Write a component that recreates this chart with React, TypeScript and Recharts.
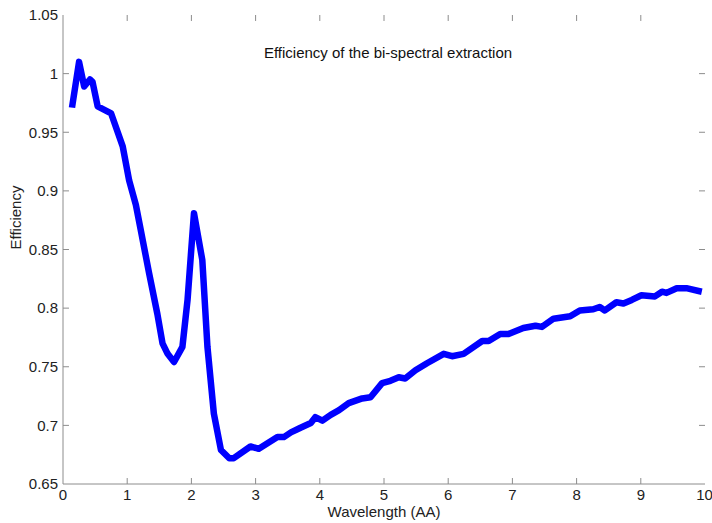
import { LineChart, Line, XAxis, YAxis, ReferenceLine } from "recharts";

const wavelength = [
  0.14, 0.25, 0.33, 0.42, 0.46, 0.54, 0.75, 0.93, 1.03, 1.135, 1.21, 1.34, 1.47, 1.55, 1.63, 1.73,
  1.86, 1.94, 2.04, 2.17, 2.25, 2.35, 2.46, 2.59, 2.66, 2.92, 3.05, 3.34, 3.44, 3.55, 3.7, 3.86,
  3.93, 4.04, 4.17, 4.3, 4.45, 4.66, 4.79, 4.97, 5.1, 5.23, 5.33, 5.49, 5.67, 5.93, 6.06, 6.24,
  6.53, 6.63, 6.81, 6.94, 7.17, 7.36, 7.46, 7.64, 7.9, 8.05, 8.26, 8.36, 8.44, 8.62, 8.73, 8.86,
  9.01, 9.22, 9.33, 9.4, 9.56, 9.71, 9.95,
];

const efficiency = [
  0.971, 1.01, 0.989, 0.995, 0.993, 0.972, 0.966, 0.938, 0.909, 0.888, 0.867, 0.83, 0.795, 0.77,
  0.761, 0.754, 0.767, 0.807, 0.881, 0.841, 0.767, 0.71, 0.679, 0.672, 0.672, 0.682, 0.68, 0.69,
  0.69, 0.694, 0.698, 0.702, 0.707, 0.704, 0.709, 0.713, 0.719, 0.723, 0.724, 0.736, 0.738, 0.741,
  0.74, 0.747, 0.753, 0.761, 0.759, 0.761, 0.772, 0.772, 0.778, 0.778, 0.783, 0.785, 0.784, 0.791,
  0.793, 0.798, 0.799, 0.801, 0.798, 0.805, 0.804, 0.807, 0.811, 0.81, 0.814, 0.813, 0.817, 0.817,
  0.814,
];

const xTicks = [0, 1, 2, 3, 4, 5, 6, 7, 8, 9, 10];
const yTicks = [0.65, 0.7, 0.75, 0.8, 0.85, 0.9, 0.95, 1, 1.05];

const data = wavelength.map((w, i) => ({ w, e: efficiency[i] }));

const X0 = 0, X1 = 10, Y0 = 0.65, Y1 = 1.05;
// inward tick length (~6px) expressed in axis units
const xTickLen = 0.093;
const yTickLen = 0.0051;

const font = "'Liberation Sans', Arial, sans-serif";
const axisGray = "#8c8c8c";
const tickText = { fill: "#222", fontSize: 15, fontFamily: font };
const fmtY = (v: number) => String(Math.round(v * 100) / 100);
const blank = () => "";

const tickSeg = (key: string, a: { x: number; y: number }, b: { x: number; y: number }) => (
  <ReferenceLine key={key} xAxisId="bottom" yAxisId="left" segment={[a, b]} stroke={axisGray} strokeWidth={1} />
);

export default function App() {
  return (
    <div style={{ position: "absolute", left: 0, top: 0, background: "#fff" }}>
      <LineChart width={712} height={523} data={data} margin={{ top: 15, right: 7, bottom: 0, left: 0 }}>
        <XAxis
          xAxisId="bottom"
          dataKey="w"
          type="number"
          domain={[X0, X1]}
          ticks={xTicks}
          height={39}
          stroke={axisGray}
          tickLine={false}
          tickSize={0}
          tickMargin={5}
          tick={tickText}
          label={{ value: "Wavelength (AA)", position: "insideBottom", offset: 6, fill: "#222", fontSize: 15, fontFamily: font }}
        />
        <XAxis xAxisId="top" orientation="top" dataKey="w" type="number" domain={[X0, X1]} ticks={xTicks}
          height={0} stroke={axisGray} tickLine={false} tickFormatter={blank} />
        <YAxis
          yAxisId="left"
          type="number"
          domain={[Y0, Y1]}
          ticks={yTicks}
          width={63}
          stroke={axisGray}
          tickLine={false}
          tickSize={0}
          tickMargin={5}
          tick={tickText}
          tickFormatter={fmtY}
          label={{ value: "Efficiency", angle: -90, position: "insideLeft", offset: 16, fill: "#222", fontSize: 15, fontFamily: font }}
        />
        <YAxis yAxisId="right" orientation="right" type="number" domain={[Y0, Y1]} ticks={yTicks}
          width={0} stroke={axisGray} tickLine={false} tickFormatter={blank} />
        {xTicks.slice(1, -1).map((t) => tickSeg(`xb${t}`, { x: t, y: Y0 }, { x: t, y: Y0 + yTickLen }))}
        {xTicks.slice(1, -1).map((t) => tickSeg(`xt${t}`, { x: t, y: Y1 }, { x: t, y: Y1 - yTickLen }))}
        {yTicks.slice(1, -1).map((t) => tickSeg(`yl${t}`, { x: X0, y: t }, { x: X0 + xTickLen, y: t }))}
        {yTicks.slice(1, -1).map((t) => tickSeg(`yr${t}`, { x: X1, y: t }, { x: X1 - xTickLen, y: t }))}
        <text x={388} y={58} textAnchor="middle" fill="#111" fontSize={15} fontFamily={font}>
          Efficiency of the bi-spectral extraction
        </text>
        <Line
          xAxisId="bottom"
          yAxisId="left"
          dataKey="e"
          type="linear"
          stroke="#0000ff"
          strokeWidth={6.5}
          strokeLinejoin="round"
          dot={false}
          isAnimationActive={false}
        />
      </LineChart>
    </div>
  );
}
